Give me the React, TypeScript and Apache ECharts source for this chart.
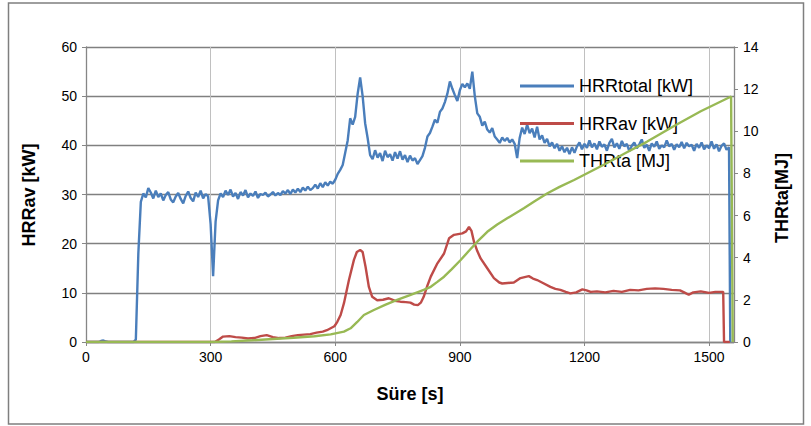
import React, { useEffect, useRef } from "react";
import * as echarts from "echarts";

const seriesNames = ["HRRtotal [kW]", "HRRav [kW]", "THRta [MJ]"];
const xAxisTitle = "Süre [s]";
const leftAxisTitle = "HRRav [kW]";
const rightAxisTitle = "THRta[MJ]";

// [time s, kW]
const hrrTotal: [number, number][] = [
  [0, 0], [6, 0], [12, 0], [18, 0], [24, 0], [30, 0], [36, 0.2], [42, 0.3], [48, 0.1], [54, 0],
  [60, 0], [66, 0], [72, 0], [78, 0], [84, 0], [90, 0], [96, 0], [102, 0], [108, 0], [114, 0],
  [120, 0.5], [126, 18], [132, 28.5], [138, 30.2], [144, 29.4], [150, 31.3], [156, 30.4], [162, 29.2],
  [168, 30.8], [174, 29.5], [180, 30.2], [186, 28.8], [192, 29.9], [198, 30.5], [204, 29.0], [210, 28.4],
  [216, 29.6], [222, 30.3], [228, 29.1], [234, 28.2], [240, 29.7], [246, 30.6], [252, 29.3], [258, 28.6],
  [264, 30.4], [270, 29.5], [276, 30.8], [282, 29.2], [288, 30.1], [294, 29.6], [300, 24], [306, 13.4],
  [312, 24.5], [318, 28.8], [324, 30.2], [330, 29.5], [336, 30.8], [342, 29.9], [348, 31.0], [354, 29.6],
  [360, 30.3], [366, 29.1], [372, 30.5], [378, 29.8], [384, 30.9], [390, 29.4], [396, 30.2], [402, 29.7],
  [408, 30.6], [414, 29.3], [420, 30.1], [426, 29.9], [432, 30.4], [438, 29.6], [444, 30.0], [450, 30.5],
  [456, 29.8], [462, 30.3], [468, 29.9], [474, 30.7], [480, 30.2], [486, 30.9], [492, 30.1], [498, 31.0],
  [504, 30.4], [510, 31.2], [516, 30.5], [522, 31.4], [528, 30.8], [534, 31.6], [540, 30.9], [546, 31.3],
  [552, 32.0], [558, 31.2], [564, 32.3], [570, 31.5], [576, 32.5], [582, 31.8], [588, 32.6], [594, 32.2],
  [600, 33.0], [606, 34.2], [612, 35.0], [618, 36.0], [624, 38.5], [630, 41.0], [636, 45.5], [642, 44.2],
  [648, 45.8], [654, 50.5], [660, 53.8], [666, 50.0], [672, 44.5], [678, 41.5], [684, 38.0], [690, 37.2],
  [696, 39.0], [702, 37.5], [708, 38.4], [714, 36.8], [720, 38.9], [726, 37.6], [732, 38.2], [738, 36.9],
  [744, 38.6], [750, 37.3], [756, 38.8], [762, 37.1], [768, 38.0], [774, 36.6], [780, 37.9], [786, 36.9],
  [792, 37.4], [798, 36.2], [804, 37.0], [810, 37.8], [816, 39.5], [822, 41.8], [828, 42.5], [834, 43.8],
  [840, 45.2], [846, 44.6], [852, 46.8], [858, 47.5], [864, 48.8], [870, 50.5], [876, 53.0], [882, 51.5],
  [888, 50.2], [894, 49.0], [900, 51.2], [906, 52.5], [912, 51.8], [918, 52.6], [924, 51.5], [930, 55.0],
  [936, 50.0], [942, 46.5], [948, 45.8], [954, 44.0], [960, 44.8], [966, 43.2], [972, 42.6], [978, 43.5],
  [984, 41.8], [990, 41.2], [996, 40.5], [1002, 41.6], [1008, 40.9], [1014, 41.5], [1020, 40.6], [1026, 41.2],
  [1032, 40.3], [1038, 37.4], [1044, 41.5], [1050, 43.6], [1056, 42.3], [1062, 44.2], [1068, 42.5], [1074, 43.4],
  [1080, 41.6], [1086, 43.8], [1092, 41.2], [1098, 42.0], [1104, 40.5], [1110, 41.3], [1116, 39.8], [1122, 40.6],
  [1128, 39.4], [1134, 40.3], [1140, 38.9], [1146, 39.8], [1152, 38.6], [1158, 39.5], [1164, 38.2], [1170, 39.6],
  [1176, 38.5], [1182, 39.8], [1188, 40.6], [1194, 39.2], [1200, 40.3], [1206, 39.5], [1212, 41.0], [1218, 39.6],
  [1224, 40.4], [1230, 39.2], [1236, 40.8], [1242, 39.7], [1248, 40.2], [1254, 38.9], [1260, 40.5], [1266, 41.3],
  [1272, 39.6], [1278, 40.4], [1284, 39.3], [1290, 40.9], [1296, 39.8], [1302, 40.3], [1308, 38.8], [1314, 39.9],
  [1320, 40.6], [1326, 39.4], [1332, 40.2], [1338, 41.2], [1344, 39.5], [1350, 40.1], [1356, 38.9], [1362, 40.4],
  [1368, 39.7], [1374, 40.8], [1380, 39.3], [1386, 40.0], [1392, 39.6], [1398, 41.0], [1404, 39.8], [1410, 40.3],
  [1416, 39.1], [1422, 40.2], [1428, 39.6], [1434, 40.7], [1440, 39.4], [1446, 40.5], [1452, 39.8], [1458, 40.1],
  [1464, 38.9], [1470, 40.3], [1476, 39.5], [1482, 40.6], [1488, 39.2], [1494, 40.0], [1500, 39.4], [1506, 40.8],
  [1512, 39.3], [1518, 40.2], [1524, 38.8], [1530, 39.9], [1536, 40.4], [1542, 39.1], [1548, 39.6], [1551, 0],
];

// [time s, kW]
const hrrAv: [number, number][] = [
  [0, 0], [310, 0], [320, 0.5], [330, 1.1], [345, 1.2], [360, 1.0], [375, 0.9], [390, 0.7], [405, 0.8],
  [420, 1.2], [435, 1.4], [450, 1.0], [465, 0.8], [480, 0.9], [495, 1.2], [510, 1.4], [525, 1.5], [540, 1.6],
  [555, 1.9], [570, 2.1], [580, 2.4], [589, 2.8], [598, 3.2], [605, 4.1], [613, 5.5], [621, 7.9], [633, 12.6],
  [645, 16.7], [652, 18.3], [660, 18.7], [666, 18.3], [673, 15.3], [681, 11.2], [689, 9.2], [701, 8.5],
  [715, 8.6], [729, 8.9], [743, 8.4], [757, 8.2], [770, 8.1], [781, 8.0], [790, 7.6], [799, 7.5], [806, 8.0],
  [813, 9.2], [822, 11.5], [830, 13.3], [846, 16], [862, 18], [874, 21.1], [886, 21.8], [906, 22.1],
  [915, 22.5], [922, 23.4], [928, 22.6], [934, 20.4], [942, 18.5], [950, 17.0], [966, 15], [982, 13],
  [995, 12.1], [1002, 11.9], [1015, 12.0], [1030, 12.1], [1046, 13], [1056, 13.2], [1066, 13.4], [1076, 12.9],
  [1086, 12.6], [1100, 12.0], [1118, 11.2], [1130, 10.8], [1142, 10.6], [1155, 10.2], [1166, 9.9], [1180, 10.1],
  [1195, 10.7], [1205, 10.5], [1215, 10.2], [1230, 10.3], [1250, 10.1], [1270, 10.4], [1290, 10.2], [1310, 10.6],
  [1330, 10.5], [1350, 10.8], [1370, 10.9], [1390, 10.8], [1410, 10.6], [1430, 10.5], [1440, 10.1], [1451, 9.6],
  [1462, 10.1], [1480, 10.3], [1500, 10.0], [1515, 10.2], [1534, 10.2], [1536, 0], [1550, 0],
];

// [time s, MJ]
const thrTa: [number, number][] = [
  [0, 0], [300, 0], [350, 0.03], [400, 0.08], [450, 0.14], [500, 0.2], [550, 0.27], [589, 0.36], [621, 0.49],
  [637, 0.65], [653, 0.95], [669, 1.28], [693, 1.52], [720, 1.76], [749, 2.0], [780, 2.23], [813, 2.47],
  [830, 2.62], [845, 2.84], [862, 3.1], [880, 3.45], [902, 3.89], [922, 4.33], [942, 4.76], [966, 5.23],
  [990, 5.58], [1014, 5.87], [1054, 6.35], [1080, 6.68], [1111, 7.06], [1140, 7.36], [1175, 7.69],
  [1250, 8.45], [1300, 8.98], [1350, 9.5], [1420, 10.3], [1480, 10.95], [1553, 11.65], [1557, 0],
];

const colors = ["#4a7ebb", "#be4b48", "#98b954"];
const FONT = "'Liberation Sans', Arial, sans-serif";

export default function App() {
  const ref = useRef<HTMLDivElement>(null);
  useEffect(() => {
    if (!ref.current) return;
    const chart = echarts.init(ref.current, undefined, { renderer: "svg" });
    const axisLineStyle = { color: "#868686", width: 1.3 };
    const plain = (v: number) => String(v);
    chart.setOption({
      animation: false,
      backgroundColor: "#ffffff",
      textStyle: { fontFamily: FONT },
      grid: { left: 86, top: 47, width: 648, height: 295, containLabel: false },
      legend: {
        orient: "vertical",
        left: 520,
        top: 76,
        padding: 0,
        itemGap: 17.5,
        itemWidth: 54,
        itemHeight: 3,
        icon: "rect",
        data: seriesNames,
        textStyle: { fontSize: 18, color: "#000", fontFamily: FONT, lineHeight: 20 },
      },
      xAxis: {
        type: "value",
        min: 0,
        max: 1560,
        interval: 300,
        axisLine: { show: true, onZero: false, lineStyle: axisLineStyle },
        axisTick: { show: true, inside: false, length: 4, lineStyle: { color: "#868686" } },
        axisLabel: { fontSize: 14, color: "#000", margin: 8, showMaxLabel: false, fontFamily: FONT, formatter: plain },
        splitLine: { show: true, lineStyle: { color: "#c0c0c0", width: 1 } },
      },
      yAxis: [
        {
          type: "value",
          min: 0,
          max: 60,
          interval: 10,
          position: "left",
          axisLine: { show: true, lineStyle: axisLineStyle },
          axisTick: { show: true, inside: false, length: 4, lineStyle: { color: "#868686" } },
          axisLabel: { fontSize: 14, color: "#000", margin: 9, fontFamily: FONT, formatter: plain },
          splitLine: { show: true, lineStyle: { color: "#808080", width: 1.3 } },
        },
        {
          type: "value",
          min: 0,
          max: 14,
          interval: 2,
          position: "right",
          axisLine: { show: true, lineStyle: axisLineStyle },
          axisTick: { show: true, inside: false, length: 4, lineStyle: { color: "#868686" } },
          axisLabel: { fontSize: 14, color: "#000", margin: 9, fontFamily: FONT, formatter: plain },
          splitLine: { show: false },
        },
      ],
      series: [
        {
          name: seriesNames[0],
          type: "line",
          yAxisIndex: 0,
          data: hrrTotal,
          showSymbol: false,
          symbol: "none",
          lineStyle: { color: colors[0], width: 2.4 },
          itemStyle: { color: colors[0] },
          z: 2,
        },
        {
          name: seriesNames[1],
          type: "line",
          yAxisIndex: 0,
          data: hrrAv,
          showSymbol: false,
          symbol: "none",
          lineStyle: { color: colors[1], width: 2.4 },
          itemStyle: { color: colors[1] },
          z: 3,
        },
        {
          name: seriesNames[2],
          type: "line",
          yAxisIndex: 1,
          data: thrTa,
          showSymbol: false,
          symbol: "none",
          lineStyle: { color: colors[2], width: 2.4 },
          itemStyle: { color: colors[2] },
          z: 4,
        },
      ],
      graphic: [
        {
          type: "rect",
          shape: { x: 8.5, y: 3, width: 795, height: 421 },
          style: { fill: "none", stroke: "#7f7f7f", lineWidth: 1.5 },
          silent: true,
          z: -1,
        },
        {
          type: "text",
          x: 29,
          y: 195,
          rotation: Math.PI / 2,
          style: {
            text: leftAxisTitle,
            font: `bold 18px ${FONT}`,
            fill: "#000",
            align: "center",
            verticalAlign: "middle",
          },
        },
        {
          type: "text",
          x: 782,
          y: 198,
          rotation: Math.PI / 2,
          style: {
            text: rightAxisTitle,
            font: `bold 18px ${FONT}`,
            fill: "#000",
            align: "center",
            verticalAlign: "middle",
          },
        },
        {
          type: "text",
          x: 410,
          y: 394,
          style: {
            text: xAxisTitle,
            font: `bold 18px ${FONT}`,
            fill: "#000",
            align: "center",
            verticalAlign: "middle",
          },
        },
      ],
    });
    return () => chart.dispose();
  }, []);
  return (
    <div
      ref={ref}
      style={{ position: "fixed", left: 0, top: 0, width: 811, height: 426, background: "#fff" }}
    />
  );
}
